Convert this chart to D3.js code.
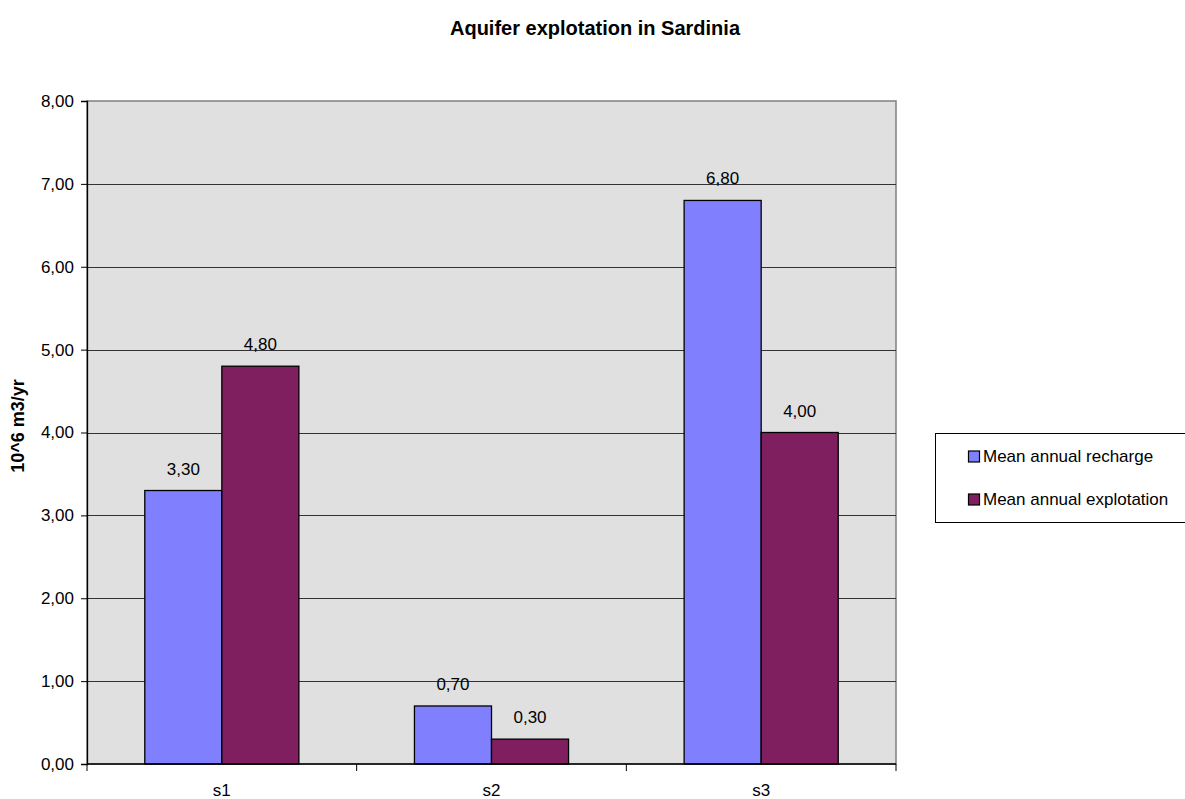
<!DOCTYPE html>
<html>
<head>
<meta charset="utf-8">
<script src="https://cdn.jsdelivr.net/npm/d3@7"></script>
<style>
  body { margin: 0; background: #fff; }
  svg { display: block; font-family: "Liberation Sans", Arial, sans-serif; }
</style>
</head>
<body>
<svg id="chart" width="1185" height="799"></svg>
<script>
// Aquifer data (10^6 m3/yr)
const categories = ["s1", "s2", "s3"];
const seriesNames = ["Mean annual recharge", "Mean annual explotation"];
const recharge = [3.3, 0.7, 6.8];
const explotation = [4.8, 0.3, 4.0];
const yTicks = [0, 1, 2, 3, 4, 5, 6, 7, 8];
const colors = ["#8080FF", "#7F1F5F"];

const svg = d3.select("#chart");
const plot = { left: 87, top: 101, right: 896, bottom: 764 };

const fmt = v => d3.format(".2f")(v).replace(".", ",");

const x = d3.scaleBand().domain(categories)
  .range([plot.left, plot.right]).paddingInner(0).paddingOuter(0);
const x1 = d3.scaleBand().domain(seriesNames)
  .range([0, x.bandwidth()]).paddingInner(0).paddingOuter(0.75);
const y = d3.scaleLinear().domain([0, 8]).range([plot.bottom, plot.top]);

// plot background
svg.append("rect")
  .attr("x", plot.left).attr("y", plot.top)
  .attr("width", plot.right - plot.left).attr("height", plot.bottom - plot.top)
  .attr("fill", "#E0E0E0")
  .attr("stroke", "#808080").attr("stroke-width", 1.5);

// gridlines
svg.append("g").selectAll("line")
  .data(yTicks.filter(t => t > 0 && t < 8))
  .join("line")
  .attr("x1", plot.left).attr("x2", plot.right)
  .attr("y1", d => Math.round(y(d)) + 0.5).attr("y2", d => Math.round(y(d)) + 0.5)
  .attr("stroke", "#333").attr("stroke-width", 1);

// bars
const data = categories.map((c, i) => ({ cat: c, vals: [recharge[i], explotation[i]] }));
const groups = svg.append("g").selectAll("g")
  .data(data).join("g")
  .attr("transform", d => `translate(${x(d.cat)},0)`);

groups.selectAll("rect")
  .data(d => d.vals.map((v, j) => ({ name: seriesNames[j], v, j })))
  .join("rect")
  .attr("x", d => x1(d.name))
  .attr("y", d => y(d.v))
  .attr("width", x1.bandwidth())
  .attr("height", d => y(0) - y(d.v))
  .attr("fill", d => colors[d.j])
  .attr("stroke", "#000").attr("stroke-width", 1.3);

groups.selectAll("text")
  .data(d => d.vals.map((v, j) => ({ name: seriesNames[j], v, j })))
  .join("text")
  .attr("x", d => x1(d.name) + x1.bandwidth() / 2)
  .attr("y", d => y(d.v) - 16)
  .attr("text-anchor", "middle")
  .attr("font-size", 17)
  .attr("fill", "#000")
  .text(d => fmt(d.v));

// y axis
const yAxis = d3.axisLeft(y).tickValues(yTicks).tickSize(6).tickPadding(7).tickFormat(fmt);
const gy = svg.append("g").attr("transform", `translate(${plot.left},0)`).call(yAxis);
gy.select(".domain").attr("stroke", "#000").attr("stroke-width", 1.3);
gy.selectAll(".tick line").attr("stroke", "#000");
gy.selectAll(".tick text").attr("font-size", 17).attr("fill", "#000")
  .attr("font-family", "Liberation Sans, Arial, sans-serif");

// x axis
const gx = svg.append("g").attr("transform", `translate(0,${plot.bottom})`);
gx.append("line").attr("x1", plot.left).attr("x2", plot.right)
  .attr("stroke", "#000").attr("stroke-width", 1.3);
const bounds = [plot.left, ...categories.map(c => x(c) + x.bandwidth())];
gx.selectAll(".cat-tick").data(bounds).join("line")
  .attr("class", "cat-tick")
  .attr("x1", d => d).attr("x2", d => d)
  .attr("y1", 0).attr("y2", 7)
  .attr("stroke", "#000");
gx.selectAll("text").data(categories).join("text")
  .attr("x", d => x(d) + x.bandwidth() / 2)
  .attr("y", 32)
  .attr("text-anchor", "middle")
  .attr("font-size", 17)
  .text(d => d);

// title
svg.append("text")
  .attr("x", 595).attr("y", 35)
  .attr("text-anchor", "middle")
  .attr("font-size", 20).attr("font-weight", "bold")
  .text("Aquifer explotation in Sardinia");

// y axis title
svg.append("text")
  .attr("transform", `translate(24,426) rotate(-90)`)
  .attr("text-anchor", "middle")
  .attr("font-size", 18).attr("font-weight", "bold")
  .text("10^6 m3/yr");

// legend
const legend = svg.append("g").attr("transform", "translate(935.5,433.5)");
legend.append("rect")
  .attr("x", 0).attr("y", 0).attr("width", 260).attr("height", 89)
  .attr("fill", "#fff").attr("stroke", "#000").attr("stroke-width", 1);
const li = legend.selectAll("g.item").data(seriesNames).join("g")
  .attr("class", "item")
  .attr("transform", (d, i) => `translate(33,${28 + i * 43})`);
li.append("rect")
  .attr("x", 0).attr("y", -10.5).attr("width", 11).attr("height", 11)
  .attr("fill", (d, i) => colors[i]).attr("stroke", "#000").attr("stroke-width", 1.2);
li.append("text")
  .attr("x", 14.5).attr("y", 0)
  .attr("font-size", 17)
  .text(d => d);
</script>
</body>
</html>
